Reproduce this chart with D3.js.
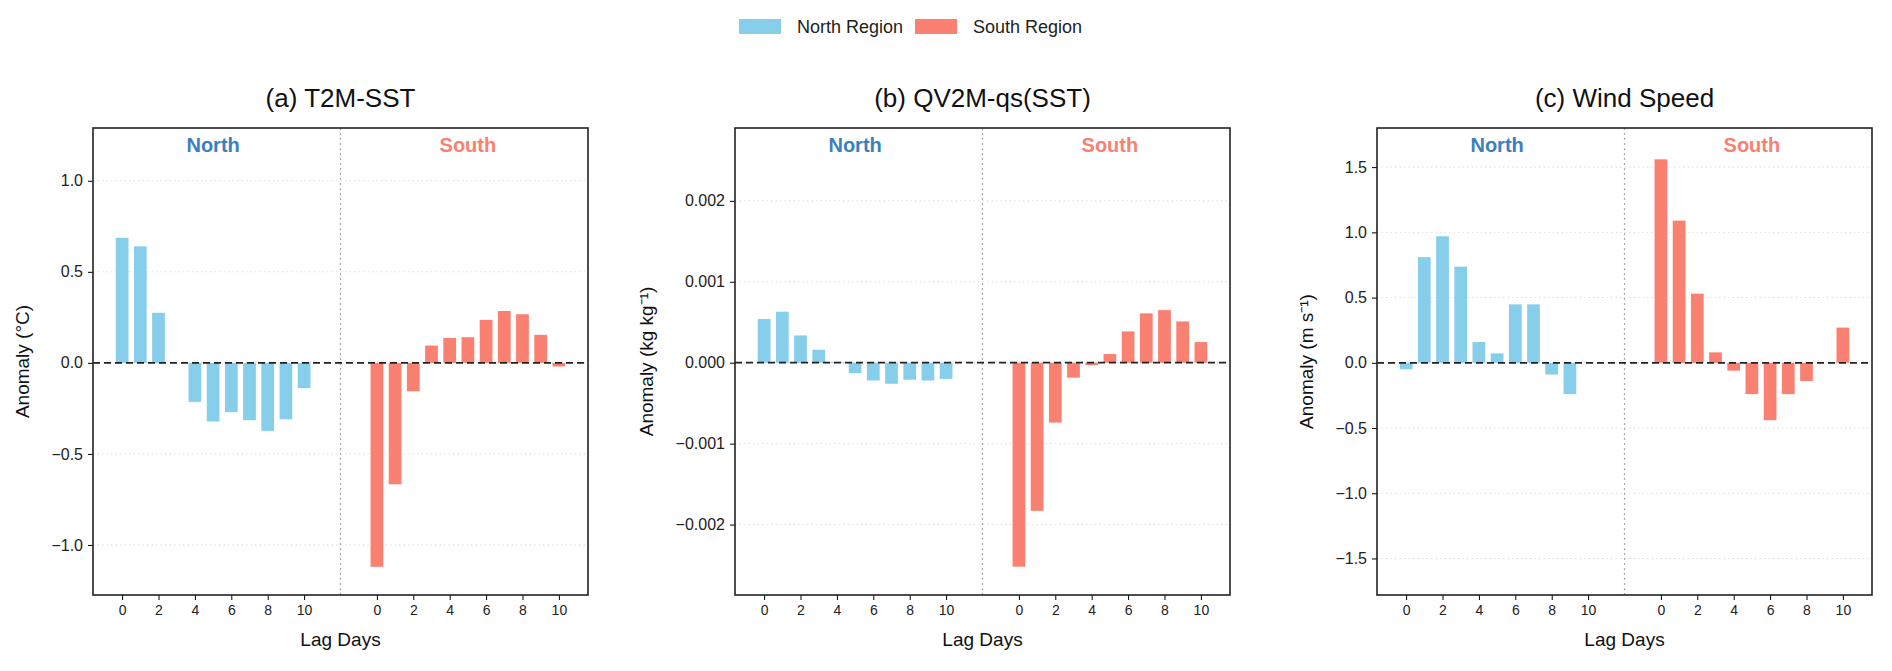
<!DOCTYPE html>
<html><head><meta charset="utf-8">
<script src="https://cdn.jsdelivr.net/npm/d3@7"></script>
<style>body{margin:0;background:#fff;font-family:"Liberation Sans",Arial,sans-serif;}</style>
</head><body><div id="chart"></div>
<script>
var width = 1892, height = 671;
var lags = [0,1,2,3,4,5,6,7,8,9,10];
var tickLags = [0,2,4,6,8,10];

// panel values (North / South)
var t2mNorth = [0.687,0.64,0.275,0.0,-0.214,-0.322,-0.271,-0.315,-0.374,-0.31,-0.139];
var t2mSouth = [-1.12,-0.667,-0.156,0.095,0.137,0.141,0.236,0.285,0.267,0.154,-0.02];
var qvNorth = [0.00054,0.00063,0.000337,0.00016,0.00001,-0.00013,-0.00022,-0.00026,-0.00021,-0.00022,-0.0002];
var qvSouth = [-0.00252,-0.00183,-0.00074,-0.000185,-0.00003,0.000107,0.000387,0.00061,0.00065,0.00051,0.000255];
var wsNorth = [-0.05,0.81,0.97,0.737,0.159,0.072,0.448,0.448,-0.09,-0.24,0.0];
var wsSouth = [1.56,1.09,0.53,0.08,-0.06,-0.24,-0.44,-0.24,-0.14,0.0,0.27];

var panels = [
  {title:"(a) T2M-SST", north:t2mNorth, south:t2mSouth, ylim:[-1.275,1.29], ticks:[-1.0,-0.5,0.0,0.5,1.0], fmt:d3.format(".1f"), ylab:"Anomaly (°C)", left:93, labOff:64},
  {title:"(b) QV2M-qs(SST)", north:qvNorth, south:qvSouth, ylim:[-0.00287,0.0029], ticks:[-0.002,-0.001,0,0.001,0.002], fmt:d3.format(".3f"), ylab:"Anomaly (kg kg⁻¹)", left:735, labOff:82},
  {title:"(c) Wind Speed", north:wsNorth, south:wsSouth, ylim:[-1.78,1.8], ticks:[-1.5,-1.0,-0.5,0.0,0.5,1.0,1.5], fmt:d3.format(".1f"), ylab:"Anomaly (m s⁻¹)", left:1377, labOff:64}
];

var northColor = "#87CEEB", southColor = "#FA8072";
var pw = 495, plotTop = 128, plotBottom = 595;

var svg = d3.select("#chart").append("svg").attr("width", width).attr("height", height);

//Legend
var leg = [{name:"North Region", c:northColor, x:739},{name:"South Region", c:southColor, x:915}];
leg.forEach(function(l){
  svg.append("rect").attr("x", l.x).attr("y", 19).attr("width", 42).attr("height", 15).attr("fill", l.c);
  svg.append("text").attr("x", l.x + 58).attr("y", 33).attr("font-size", 18).attr("fill", "#222").text(l.name);
});

panels.forEach(function(p){
  var g = svg.append("g");
  var x = d3.scaleLinear().domain([-1.6, 25.6]).range([p.left, p.left + pw]);
  var y = d3.scaleLinear().domain(p.ylim).range([plotBottom, plotTop]);
  var bw = x(0.7) - x(0);

  // grid
  g.selectAll(".grid").data(p.ticks).enter().append("line")
    .attr("x1", p.left).attr("x2", p.left + pw)
    .attr("y1", function(d){return y(d);}).attr("y2", function(d){return y(d);})
    .attr("stroke", "#ddd").attr("stroke-dasharray", "1.5,3").attr("stroke-width", 1);

  // divider
  g.append("line").attr("x1", x(12)).attr("x2", x(12)).attr("y1", plotTop).attr("y2", plotBottom)
    .attr("stroke", "#aaa").attr("stroke-dasharray", "2,3").attr("stroke-width", 1.2);

  // bars
  [[p.north, 0, northColor], [p.south, 14, southColor]].forEach(function(s){
    g.selectAll(null).data(lags).enter().append("rect")
      .attr("x", function(d){return x(d + s[1]) - bw / 2;})
      .attr("width", bw)
      .attr("y", function(d, i){return y(Math.max(0, s[0][i]));})
      .attr("height", function(d, i){return Math.abs(y(s[0][i]) - y(0));})
      .attr("fill", s[2]);
  });

  // zero line
  g.append("line").attr("x1", p.left).attr("x2", p.left + pw).attr("y1", y(0)).attr("y2", y(0))
    .attr("stroke", "#222").attr("stroke-dasharray", "7,4").attr("stroke-width", 1.8);

  // axes
  var ya = d3.axisLeft(y).tickValues(p.ticks).tickFormat(function(d){return p.fmt(d).replace("-", "\u2212");}).tickSize(5).tickPadding(5);
  g.append("g").attr("transform", "translate(" + p.left + ",0)").call(ya)
    .call(function(a){a.select(".domain").remove(); a.selectAll("text").attr("font-size", 16).attr("fill", "#222").style("font-family", "Liberation Sans");});
  var xt = tickLags.concat(tickLags.map(function(d){return d + 14;}));
  var xa = d3.axisBottom(x).tickValues(xt).tickFormat(function(d){return d >= 14 ? d - 14 : d;}).tickSize(5).tickPadding(5);
  g.append("g").attr("transform", "translate(0," + plotBottom + ")").call(xa)
    .call(function(a){a.select(".domain").remove(); a.selectAll("text").attr("font-size", 14).attr("fill", "#222").style("font-family", "Liberation Sans");});

  // frame
  g.append("rect").attr("x", p.left).attr("y", plotTop).attr("width", pw).attr("height", plotBottom - plotTop)
    .attr("fill", "none").attr("stroke", "#222").attr("stroke-width", 1.6);

  // labels
  g.append("text").attr("x", x(5)).attr("y", 152).attr("text-anchor", "middle").attr("font-size", 20).attr("font-weight", "bold").attr("fill", "#3b80bd").text("North");
  g.append("text").attr("x", x(19)).attr("y", 152).attr("text-anchor", "middle").attr("font-size", 20).attr("font-weight", "bold").attr("fill", southColor).text("South");
  g.append("text").attr("x", p.left + pw / 2).attr("y", 107).attr("text-anchor", "middle").attr("font-size", 26).attr("fill", "#111").text(p.title);
  g.append("text").attr("x", p.left + pw / 2).attr("y", 646).attr("text-anchor", "middle").attr("font-size", 19).attr("fill", "#111").text("Lag Days");
  g.append("text").attr("transform", "translate(" + (p.left - p.labOff) + "," + (plotTop + plotBottom) / 2 + ") rotate(-90)")
    .attr("text-anchor", "middle").attr("font-size", 19).attr("fill", "#111").text(p.ylab);
});
</script>
</body></html>
